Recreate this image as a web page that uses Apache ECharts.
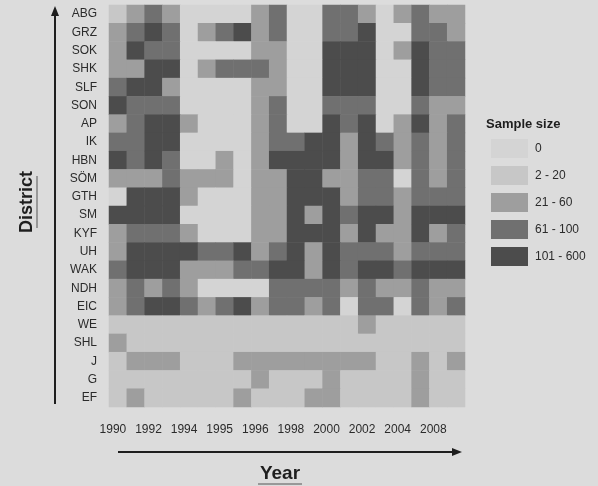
<!DOCTYPE html>
<html><head><meta charset="utf-8">
<script src="https://cdn.jsdelivr.net/npm/echarts@6/dist/echarts.min.js"></script>
<style>html,body{margin:0;padding:0;background:#dcdcdc}#c{width:598px;height:486px}</style>
</head><body><div id="c"></div>
<script>
// Districts (top to bottom) and years (columns)
const districts = ['ABG','GRZ','SOK','SHK','SLF','SON','AP','IK','HBN','SÖM','GTH','SM','KYF','UH','WAK','NDH','EIC','WE','SHL','J','G','EF'];
const years = ['1990','1991','1992','1993','1994','1995','1996','1997','1998','1999','2000','2001','2002','2003','2004','2005','2006','2007','2008','2009'];
// Tick labels as printed under the columns
const yearTickLabels = ['1990','','1992','','1994','','1995','','1996','','1998','','2000','','2002','','2004','','2008',''];
// Sample size classes (legend)
const sizeClassLabels = ['0','2 - 20','21 - 60','61 - 100','101 - 600'];
const sizeClassColors = ['#d4d4d4','#c7c7c7','#9e9e9e','#707070','#4c4c4c'];

// Sample size class per year (index into sizeClassLabels), one array per district
const ABG = [1,2,3,2,0,0,0,0,2,3,0,0,3,3,2,0,2,3,2,2];
const GRZ = [2,3,4,3,0,2,3,4,2,3,0,0,3,3,4,0,0,3,3,2];
const SOK = [2,4,3,3,0,0,0,0,2,2,0,0,4,4,4,0,2,4,3,3];
const SHK = [2,2,4,4,0,2,3,3,3,2,0,0,4,4,4,0,0,4,3,3];
const SLF = [3,4,4,2,0,0,0,0,2,2,0,0,4,4,4,0,0,4,3,3];
const SON = [4,3,3,3,0,0,0,0,2,3,0,0,3,3,3,0,0,3,2,2];
const AP  = [2,3,4,4,2,0,0,0,2,3,0,0,4,3,4,0,2,4,2,3];
const IK  = [3,3,4,4,0,0,0,0,2,3,3,4,4,2,4,3,2,3,2,3];
const HBN = [4,3,4,3,0,0,2,0,2,4,4,4,4,2,4,4,2,3,2,3];
const SOM = [2,2,2,3,2,2,2,0,2,2,4,4,2,2,3,3,0,3,2,3];
const GTH = [0,4,4,4,2,0,0,0,2,2,4,4,4,2,3,3,2,3,3,3];
const SM  = [4,4,4,4,0,0,0,0,2,2,4,2,4,3,4,4,2,4,4,4];
const KYF = [2,3,3,3,2,0,0,0,2,2,4,4,4,2,4,2,2,4,2,3];
const UH  = [2,4,4,4,4,3,3,4,2,3,4,2,4,3,3,3,2,3,3,3];
const WAK = [3,4,4,4,2,2,2,3,3,4,4,2,4,3,4,4,3,4,4,4];
const NDH = [2,3,2,3,2,0,0,0,0,3,3,3,3,2,3,2,2,3,2,2];
const EIC = [2,3,4,4,3,2,3,4,2,3,3,2,3,0,3,3,0,3,2,3];
const WE  = [1,1,1,1,1,1,1,1,1,1,1,1,1,1,2,1,1,1,1,1];
const SHL = [2,1,1,1,1,1,1,1,1,1,1,1,1,1,1,1,1,1,1,1];
const J   = [1,2,2,2,1,1,1,2,2,2,2,2,2,2,2,1,1,2,1,2];
const G   = [1,1,1,1,1,1,1,1,2,1,1,1,2,1,1,1,1,2,1,1];
const EF  = [1,2,1,1,1,1,1,2,1,1,1,2,2,1,1,1,1,2,1,1];
const classByDistrict = [ABG,GRZ,SOK,SHK,SLF,SON,AP,IK,HBN,SOM,GTH,SM,KYF,UH,WAK,NDH,EIC,WE,SHL,J,G,EF];

const cells = [];
classByDistrict.forEach((row, yi) => row.forEach((v, xi) => cells.push([xi, yi, v])));

const txt = '#2b2b2b';
const font = '"Liberation Sans", Arial, sans-serif';
const chart = echarts.init(document.getElementById('c'), null, {renderer: 'canvas'});
chart.setOption({
  backgroundColor: '#dcdcdc',
  animation: false,
  textStyle: {fontFamily: font},
  grid: {left: 109, right: 133, top: 5, bottom: 79},
  xAxis: {
    type: 'category', data: years,
    axisLine: {show: false}, axisTick: {show: false}, splitLine: {show: false},
    axisLabel: {interval: 0, margin: 17, fontSize: 12, color: txt, fontFamily: font,
      padding: [0, 10, 0, 0],
      formatter: (v, i) => yearTickLabels[i]}
  },
  yAxis: {
    type: 'category', data: districts, inverse: true,
    axisLine: {show: false}, axisTick: {show: false}, splitLine: {show: false},
    axisLabel: {interval: 0, margin: 12, fontSize: 12, color: txt, fontFamily: font}
  },
  visualMap: {
    type: 'piecewise', orient: 'vertical', inverse: true, align: 'left',
    left: 491, top: 139, padding: 0,
    itemWidth: 37, itemHeight: 19, itemGap: 8, textGap: 7,
    itemSymbol: 'rect',
    selectedMode: false, hoverLink: false,
    textStyle: {fontSize: 12, color: txt, fontFamily: font},
    pieces: sizeClassLabels.map((l, i) => ({value: i, label: l, color: sizeClassColors[i]}))
  },
  series: [{
    type: 'heatmap', data: cells, progressive: 0,
    itemStyle: {borderWidth: 0},
    emphasis: {disabled: true}
  }],
  graphic: [
    {type: 'line', shape: {x1: 55, y1: 14, x2: 55, y2: 404}, style: {stroke: '#1e1e1e', lineWidth: 2}},
    {type: 'polygon', shape: {points: [[55, 6], [51, 16], [59, 16]]}, style: {fill: '#1e1e1e'}},
    {type: 'line', shape: {x1: 118, y1: 452, x2: 454, y2: 452}, style: {stroke: '#1e1e1e', lineWidth: 2}},
    {type: 'polygon', shape: {points: [[462, 452], [452, 448], [452, 456]]}, style: {fill: '#1e1e1e'}},
    {type: 'text', x: 27, y: 202, rotation: Math.PI / 2,
      style: {text: 'District', fontSize: 18, fontWeight: 'bold', fill: '#1e1e1e', fontFamily: font, align: 'center', verticalAlign: 'middle'}},
    {type: 'line', shape: {x1: 37, y1: 176, x2: 37, y2: 228}, style: {stroke: '#555', lineWidth: 1}},
    {type: 'text', x: 280, y: 474,
      style: {text: 'Year', fontSize: 19, fontWeight: 'bold', fill: '#1e1e1e', fontFamily: font, align: 'center', verticalAlign: 'middle'}},
    {type: 'line', shape: {x1: 258, y1: 484, x2: 302, y2: 484}, style: {stroke: '#555', lineWidth: 1}},
    {type: 'text', x: 486, y: 124,
      style: {text: 'Sample size', fontSize: 13, fontWeight: 'bold', fill: '#1e1e1e', fontFamily: font, align: 'left', verticalAlign: 'middle'}}
  ]
});
</script>
</body></html>
